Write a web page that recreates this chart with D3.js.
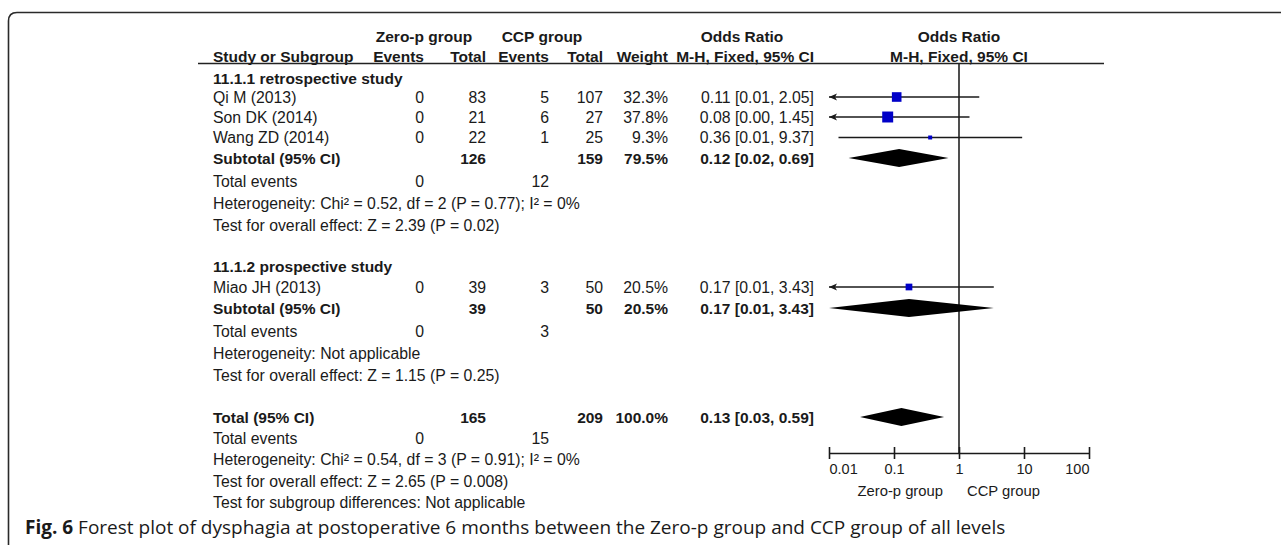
<!DOCTYPE html>
<html><head><meta charset="utf-8">
<script src="https://cdn.jsdelivr.net/npm/d3@7/dist/d3.min.js"></script>
<style>
body{margin:0;background:#fff}
svg{display:block}
text{font-family:"Liberation Sans",Arial,sans-serif;fill:#1a1a1a}
</style>
</head><body>
<svg id="c" width="1281" height="545"></svg>
<script>
// ---------- data ----------
const studies   = ["Qi M (2013)", "Son DK (2014)", "Wang ZD (2014)", "Miao JH (2013)"];
const studyGrp  = [0, 0, 0, 1];
const ev1       = [0, 0, 0, 0];
const tot1      = [83, 21, 22, 39];
const ev2       = [5, 6, 1, 3];
const tot2      = [107, 27, 25, 50];
const weights   = [32.3, 37.8, 9.3, 20.5];
const orVal     = [0.11, 0.08, 0.36, 0.17];
const ciLow     = [0.006, 0.004, 0.014, 0.008];
const ciHigh    = [2.05, 1.45, 9.37, 3.43];

const groups    = ["11.1.1 retrospective study", "11.1.2 prospective study"];
const subTot1   = [126, 39];
const subTot2   = [159, 50];
const subEv1    = [0, 0];
const subEv2    = [12, 3];
const subW      = [79.5, 20.5];
const subOR     = [0.12, 0.17];
const subLow    = [0.02, 0.008];
const subHigh   = [0.69, 3.43];
const subHet    = ["Heterogeneity: Chi² = 0.52, df = 2 (P = 0.77); I² = 0%", "Heterogeneity: Not applicable"];
const subTest   = ["Test for overall effect: Z = 2.39 (P = 0.02)", "Test for overall effect: Z = 1.15 (P = 0.25)"];

const totalN    = [165, 209];
const totalEv   = [0, 15];
const totalW    = 100.0;
const totalOR   = [0.13, 0.03, 0.59];
const totalHet  = "Heterogeneity: Chi² = 0.54, df = 3 (P = 0.91); I² = 0%";
const totalTest = "Test for overall effect: Z = 2.65 (P = 0.008)";
const subDiff   = "Test for subgroup differences: Not applicable";

const tickVals  = [0.01, 0.1, 1, 10, 100];
const tickLbls  = ["0.01", "0.1", "1", "10", "100"];
const favours   = ["Zero-p group", "CCP group"];
const headTop   = ["Zero-p group", "CCP group", "Odds Ratio", "Odds Ratio"];
const headCols  = ["Study or Subgroup", "Events", "Total", "Events", "Total", "Weight", "M-H, Fixed, 95% CI", "M-H, Fixed, 95% CI"];
const captionB  = "Fig. 6";
const captionT  = " Forest plot of dysphagia at postoperative 6 months between the Zero-p group and CCP group of all levels";

// ---------- layout ----------
const FS = 15.8, FH = 15.5;
const col = {label:213, ev1:424, tot1:486, ev2:549, tot2:603, w:668, or:814};
const rows = {
  h1:36, h2:56, line:63.5,
  g:[78, 266],
  study:[97, 117, 137.5, 287],
  sub:[158, 308],
  subEv:[181, 331], subHet:[203, 353], subTest:[225, 375],
  tot:417, totEv:438, totHet:459, totTest:481, diff:502,
  axis:453
};
const BL = 5.6; // center -> baseline offset

const svg = d3.select("#c");
const x = d3.scaleLog().domain([0.01, 100]).range([829, 1089]);
const sq = d3.scaleLinear().domain([0, 40]).range([1.7, 11.5]);
const f2 = d3.format(".2f");
const f1 = d3.format(".1f");
const orText = (o, l, h) => `${f2(o)} [${f2(l)}, ${f2(h)}]`;

// frame
svg.append("path")
  .attr("d", "M1281,12.5 L17,12.5 Q8.5,12.5 8.5,21 L8.5,545")
  .attr("fill", "none").attr("stroke", "#2a2a2a").attr("stroke-width", 1.6);

function txt(xp, yc, s, anchor, bold, size) {
  return svg.append("text").attr("x", xp).attr("y", yc + BL)
    .attr("text-anchor", anchor || "start")
    .attr("font-size", size || (bold ? FH : FS))
    .attr("font-weight", bold ? "bold" : "normal")
    .text(s);
}

// headers
txt(424, rows.h1, headTop[0], "middle", true);
txt(542, rows.h1, headTop[1], "middle", true);
txt(742, rows.h1, headTop[2], "middle", true);
txt(959, rows.h1, headTop[3], "middle", true);
txt(col.label, rows.h2, headCols[0], "start", true);
txt(col.ev1, rows.h2, headCols[1], "end", true);
txt(col.tot1, rows.h2, headCols[2], "end", true);
txt(col.ev2, rows.h2, headCols[3], "end", true);
txt(col.tot2, rows.h2, headCols[4], "end", true);
txt(col.w, rows.h2, headCols[5], "end", true);
txt(col.or, rows.h2, headCols[6], "end", true);
txt(959, rows.h2, headCols[7], "middle", true);
svg.append("line").attr("x1", 198).attr("x2", 1104)
  .attr("y1", rows.line).attr("y2", rows.line)
  .attr("stroke", "#222").attr("stroke-width", 1.5);

// vertical line of no effect
svg.append("line").attr("x1", x(1)).attr("x2", x(1))
  .attr("y1", rows.line).attr("y2", rows.axis)
  .attr("stroke", "#222").attr("stroke-width", 1.6);

// groups
groups.forEach((g, i) => txt(col.label, rows.g[i], g, "start", true));

// studies
studies.forEach((s, i) => {
  const y = rows.study[i];
  txt(col.label, y, s);
  txt(col.ev1, y, ev1[i], "end");
  txt(col.tot1, y, tot1[i], "end");
  txt(col.ev2, y, ev2[i], "end");
  txt(col.tot2, y, tot2[i], "end");
  txt(col.w, y, f1(weights[i]) + "%", "end");
  txt(col.or, y, orText(orVal[i], ciLow[i], ciHigh[i]), "end");
  const [d0, d1] = x.domain();
  const lo = Math.max(ciLow[i], d0), hi = Math.min(ciHigh[i], d1);
  svg.append("line").attr("x1", x(lo)).attr("x2", x(hi)).attr("y1", y).attr("y2", y)
    .attr("stroke", "#1a1a1a").attr("stroke-width", 1.6);
  if (ciLow[i] < d0) {
    const ax = x(d0);
    svg.append("path").attr("d", `M${ax},${y} L${ax+8},${y-3.5} L${ax+6},${y} L${ax+8},${y+3.5} Z`)
      .attr("fill", "#1a1a1a");
  }
  const s2 = sq(weights[i]);
  svg.append("rect").attr("x", x(orVal[i]) - s2/2).attr("y", y - s2/2)
    .attr("width", s2).attr("height", s2).attr("fill", "#0000c8");
});

function diamond(y, o, l, h) {
  const [d0, d1] = x.domain();
  const lo = x(Math.max(l, d0)), hi = x(Math.min(h, d1)), c = x(o);
  svg.append("path").attr("d", `M${lo},${y} L${c},${y-9} L${hi},${y} L${c},${y+9} Z`)
    .attr("fill", "#000");
}

// subtotals
groups.forEach((g, i) => {
  const y = rows.sub[i];
  txt(col.label, y, "Subtotal (95% CI)", "start", true);
  txt(col.tot1, y, subTot1[i], "end", true);
  txt(col.tot2, y, subTot2[i], "end", true);
  txt(col.w, y, f1(subW[i]) + "%", "end", true);
  txt(col.or, y, orText(subOR[i], subLow[i], subHigh[i]), "end", true);
  diamond(y, subOR[i], subLow[i], subHigh[i]);
  txt(col.label, rows.subEv[i], "Total events");
  txt(col.ev1, rows.subEv[i], subEv1[i], "end");
  txt(col.ev2, rows.subEv[i], subEv2[i], "end");
  txt(col.label, rows.subHet[i], subHet[i]);
  txt(col.label, rows.subTest[i], subTest[i]);
});

// total
txt(col.label, rows.tot, "Total (95% CI)", "start", true);
txt(col.tot1, rows.tot, totalN[0], "end", true);
txt(col.tot2, rows.tot, totalN[1], "end", true);
txt(col.w, rows.tot, f1(totalW) + "%", "end", true);
txt(col.or, rows.tot, orText(totalOR[0], totalOR[1], totalOR[2]), "end", true);
diamond(rows.tot, totalOR[0], totalOR[1], totalOR[2]);
txt(col.label, rows.totEv, "Total events");
txt(col.ev1, rows.totEv, totalEv[0], "end");
txt(col.ev2, rows.totEv, totalEv[1], "end");
txt(col.label, rows.totHet, totalHet);
txt(col.label, rows.totTest, totalTest);
txt(col.label, rows.diff, subDiff);

// axis
const axis = d3.axisBottom(x).tickValues(tickVals)
  .tickFormat((d, i) => tickLbls[i]).tickSizeInner(6).tickSizeOuter(0).tickPadding(5);
const gA = svg.append("g").attr("transform", `translate(0,${rows.axis})`).call(axis);
gA.select(".domain").attr("stroke", "#1a1a1a").attr("stroke-width", 1.6);
gA.selectAll(".tick line").attr("y1", -6).attr("y2", 6).attr("stroke", "#1a1a1a").attr("stroke-width", 1.6);
gA.selectAll(".tick text")
  .attr("font-family", "Liberation Sans, Arial, sans-serif")
  .attr("font-size", 14.5).attr("fill", "#1a1a1a")
  .attr("text-anchor", (d, i) => i === 0 ? "start" : (i === tickVals.length - 1 ? "end" : "middle"));
txt(x(1) - 16, 490, favours[0], "end", false, 14.8);
txt(x(1) + 8, 490, favours[1], "start", false, 14.8);

// caption
const cap = svg.append("text").attr("x", 25).attr("y", 534)
  .style("font-family", "'Open Sans', sans-serif").attr("font-size", 19);
cap.append("tspan").attr("font-weight", "bold").style("font-family", "'Open Sans', sans-serif").text(captionB);
cap.append("tspan").style("font-family", "'Open Sans', sans-serif").text(captionT);
</script>
</body></html>
